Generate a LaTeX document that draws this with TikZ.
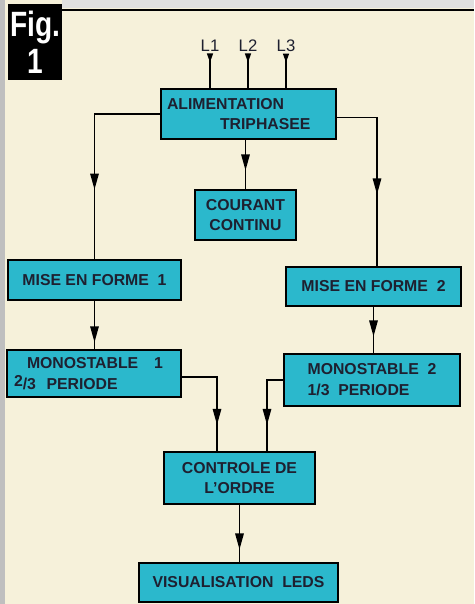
\documentclass[tikz,border=0pt]{standalone}
\usepackage{fontspec}
\setmainfont{Liberation Sans}
\usetikzlibrary{arrows.meta,decorations.markings}

\definecolor{paper}{HTML}{F6F1DA}
\definecolor{boxcyan}{HTML}{2BB8CC}
\definecolor{ink}{HTML}{1E2030}

\tikzset{
  block/.style={draw=black, line width=1.1pt, fill=boxcyan, text=ink,
    font=\bfseries\fontsize{9}{11}\selectfont, align=center, inner sep=0pt},
  flow/.style={line width=0.8pt, decoration={markings,
    mark=at position #1 with {\arrow{Triangle[length=0.32cm,width=0.17cm]}}},
    postaction={decorate}},
  phasein/.style={line width=0.8pt, decoration={markings,
    mark=at position #1 with {\arrow{Triangle[length=0.18cm,width=0.12cm]}}},
    postaction={decorate}},
  phase/.style={text=ink, font=\fontsize{9.5}{10}\selectfont, inner sep=1pt}
}

\begin{document}
\begin{tikzpicture}[x=0.02cm, y=-0.02cm]
\useasboundingbox (0, 0) rectangle (474, 604);
\fill[paper] (0, 0) rectangle (474, 604);
\fill[black!12] (62, 0) rectangle (474, 8);
\fill[black!25] (0, 0) rectangle (5, 604);
\draw[line width=1.2pt] (62, 10) -- (474, 10);

\node[fill=black, text=white, minimum width=1.08cm, minimum height=1.54cm,
  font=\bfseries\fontsize{20}{21}\selectfont, align=center, inner sep=0pt]
  (fig) at (35, 42) {\scalebox{0.8}[1]{Fig.}\\\scalebox{0.8}[1]{1}};

\node[phase] (l1) at (210, 46) {L1};
\node[phase] (l2) at (248, 46) {L2};
\node[phase] (l3) at (286, 46) {L3};

\node[block, minimum width=3.5cm, minimum height=1cm, align=left,
  text width=3.26cm] (alim) at (248.5, 114)
  {ALIMENTATION\\\hspace*{1.06cm}TRIPHASEE};
\node[block, minimum width=2.02cm, minimum height=1cm] (cour) at (245.5, 215)
  {COURANT\\CONTINU};
\node[block, minimum width=3.46cm, minimum height=0.8cm] (mef1) at (94.5, 280)
  {MISE EN FORME\ \ 1};
\node[block, minimum width=3.5cm, minimum height=0.78cm] (mef2) at (373.5, 286.5)
  {MISE EN FORME\ \ 2};
\node[block, minimum width=3.48cm, minimum height=0.94cm, align=left,
  text width=3.2cm, font=\bfseries\fontsize{9}{12}\selectfont] (mono1) at (94, 373.5)
  {\hspace*{0.26cm}MONOSTABLE\ \ \ 1\\\raisebox{1.5pt}{2}/3\ \ PERIODE};
\node[block, minimum width=3.52cm, minimum height=1.04cm, align=left,
  font=\bfseries\fontsize{9}{12}\selectfont] (mono2) at (372, 380)
  {MONOSTABLE\ \ 2\\1/3\ \ PERIODE};
\node[block, minimum width=3.02cm, minimum height=1.04cm] (ctrl) at (239.5, 478)
  {CONTROLE DE\\L'ORDRE};
\node[block, minimum width=3.98cm, minimum height=0.78cm] (vis) at (238.5, 582.5)
  {VISUALISATION\ \ LEDS};

% phases in
\draw[phasein=0.25] (l1.south) -- (l1.south |- alim.north);
\draw[phasein=0.25] (l2.south) -- (l2.south |- alim.north);
\draw[phasein=0.25] (l3.south) -- (l3.south |- alim.north);

% supply outputs
\draw[flow=0.67] (alim.west) -| (mef1.north);
\draw[flow=0.62] ([yshift=-2pt]alim.east) -| ([xshift=0.07cm]mef2.north);
\draw[flow=0.62] (cour.north |- alim.south) -- (cour.north);

\draw[flow=0.86] (mef1.south) -- (mef1.south |- mono1.north);
\draw[flow=0.64] (mef2.south) -- (mef2.south |- mono2.north);

\draw[flow=0.76] ([yshift=-2pt]mono1.east) -| ([xshift=-0.45cm]ctrl.north);
\draw[flow=0.70] (mono2.west) -| ([xshift=0.55cm]ctrl.north);

\draw[flow=0.78] (ctrl.south) -- (ctrl.south |- vis.north);

\end{tikzpicture}
\end{document}
